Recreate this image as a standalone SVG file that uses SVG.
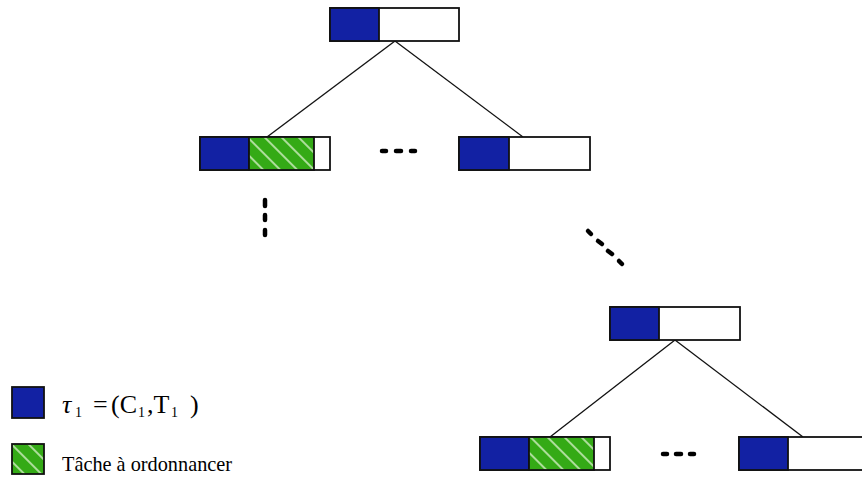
<svg xmlns="http://www.w3.org/2000/svg" width="862" height="480" viewBox="0 0 862 480">
<style>
.frame{fill:#fff;stroke:#111;stroke-width:1.8}
.blue{fill:#1221a3;stroke:#111;stroke-width:1.8}
.green{fill:url(#hatch);stroke:#111;stroke-width:1.8}
.edge{stroke:#111;stroke-width:1.3;fill:none}
.dot{stroke:#000;stroke-width:4.5;stroke-linecap:round;fill:none}
.txt{font-family:"Liberation Serif","Times New Roman",serif;fill:#000}
.sub{font-size:14px}
</style>
<defs>
<pattern id="hatch" width="12" height="12" patternUnits="userSpaceOnUse" patternTransform="rotate(-45)">
<rect width="12" height="12" fill="#34aa16"/>
<line x1="6" y1="0" x2="6" y2="12" stroke="#dff3d2" stroke-width="1.4"/>
</pattern>
</defs>
<g id="connectors">
<line class="edge" x1="395" y1="41" x2="267" y2="137"/>
<line class="edge" x1="395" y1="41" x2="523" y2="137"/>
<line class="edge" x1="675" y1="340" x2="550" y2="437"/>
<line class="edge" x1="675" y1="340" x2="803" y2="437"/>
</g>
<g id="node-root">
<rect class="frame" x="330" y="8" width="129" height="33"/>
<rect class="blue" x="330" y="8" width="49" height="33"/>
</g>
<g id="node-left">
<rect class="frame" x="200" y="137" width="130" height="33"/>
<rect class="blue" x="200" y="137" width="49" height="33"/>
<rect class="green" x="249" y="137" width="65" height="33"/>
</g>
<g id="node-right">
<rect class="frame" x="459" y="137" width="131" height="33"/>
<rect class="blue" x="459" y="137" width="50" height="33"/>
</g>
<g id="node-mid">
<rect class="frame" x="610" y="307" width="130" height="33"/>
<rect class="blue" x="610" y="307" width="49" height="33"/>
</g>
<g id="node-bottom-left">
<rect class="frame" x="480" y="437" width="130" height="33"/>
<rect class="blue" x="480" y="437" width="49" height="33"/>
<rect class="green" x="529" y="437" width="65" height="33"/>
</g>
<g id="node-bottom-right">
<rect class="frame" x="739" y="437" width="131" height="33"/>
<rect class="blue" x="739" y="437" width="49" height="33"/>
</g>
<g id="ellipses">
<line class="dot" x1="382" y1="151" x2="386" y2="151"/>
<line class="dot" x1="396" y1="151" x2="401" y2="151"/>
<line class="dot" x1="411" y1="151" x2="415" y2="151"/>
<line class="dot" x1="265" y1="200" x2="265" y2="206"/>
<line class="dot" x1="265" y1="215" x2="265" y2="220"/>
<line class="dot" x1="265" y1="230" x2="265" y2="235"/>
<line class="dot" x1="588" y1="231" x2="591" y2="234"/>
<line class="dot" x1="598" y1="241" x2="602" y2="244"/>
<line class="dot" x1="608" y1="251" x2="612" y2="254"/>
<line class="dot" x1="619" y1="261" x2="622" y2="264"/>
<line class="dot" x1="663" y1="454" x2="667" y2="454"/>
<line class="dot" x1="676" y1="454" x2="681" y2="454"/>
<line class="dot" x1="690" y1="454" x2="694" y2="454"/>
</g>
<g id="legend-tau">
<rect class="blue" x="12" y="387" width="32" height="31"/>
<text class="txt" font-size="26">
<tspan x="62" y="413" font-style="italic">τ</tspan><tspan class="sub" x="75" y="417">1</tspan><tspan x="93" y="413">=</tspan><tspan x="111" y="413">(C</tspan><tspan class="sub" x="138" y="417">1</tspan><tspan x="147" y="413">,T</tspan><tspan class="sub" x="171" y="417">1</tspan><tspan x="190" y="413">)</tspan>
</text>
</g>
<g id="legend-task">
<rect class="green" x="12" y="444" width="32" height="30"/>
<text class="txt" x="62" y="471" font-size="20.3">Tâche à ordonnancer</text>
</g>
</svg>
